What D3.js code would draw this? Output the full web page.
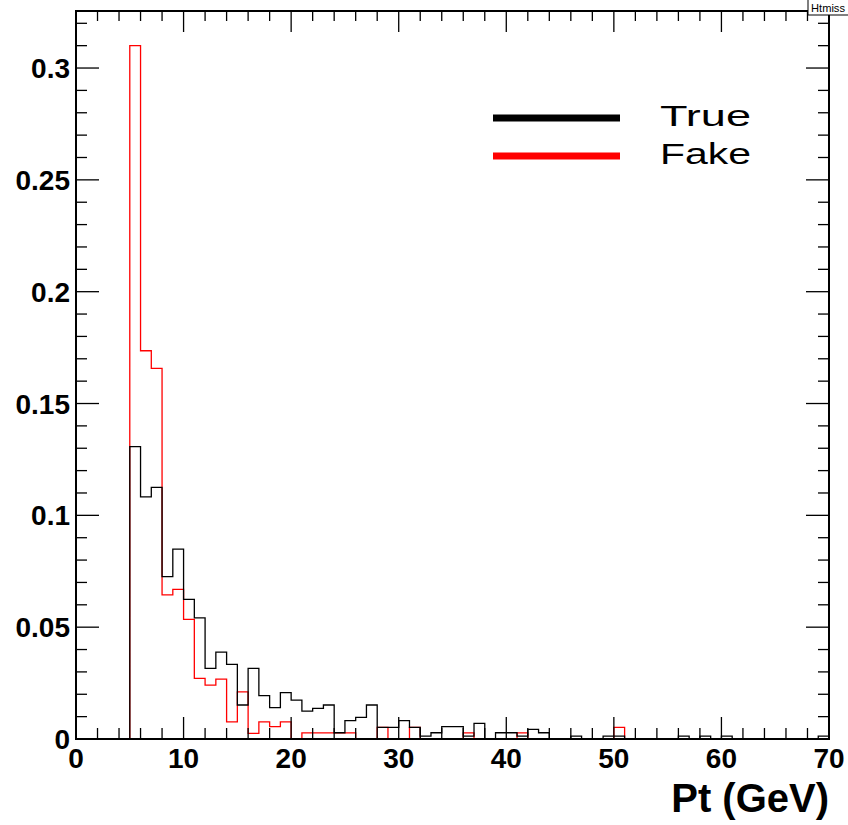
<!DOCTYPE html>
<html><head><meta charset="utf-8">
<script src="https://cdn.jsdelivr.net/npm/d3@7"></script>
<style>body{margin:0;background:#fff}svg{display:block}</style>
</head><body>
<svg id="c" width="848" height="825"></svg>
<script>
// bin low edges 0..69, width 1 GeV
const binEdges = d3.range(0, 71);
const trueVals = [0,0,0,0,0,
 0.1307,0.1083,0.1125,0.0726,0.0849,0.0624,0.0542,0.0316,0.0388,0.0334,
 0.0152,0.0316,0.0194,0.0140,0.0207,0.0174,0.0125,0.0137,0.0152,0.0028,
 0.0082,0.0097,0.0152,0.0052,0.0052,0.0082,0.0052,0.0013,0.0028,0.0055,
 0.0055,0.0013,0.0070,0,0.0028,0.0028,0.0013,0.0043,0.0028,0,
 0,0.0013,0,0,0.0013,0.0013,0,0,0,0,
 0,0.0013,0,0.0013,0,0.0013,0,0,0,0,
 0,0,0,0,0.0013];
const fakeVals = [0,0,0,0,0,
 0.3100,0.1736,0.1657,0.0644,0.0669,0.0535,0.0271,0.0241,0.0268,0.0077,
 0.0211,0.0025,0.0077,0.0055,0.0077,0,0.0027,0.0027,0.0027,0.0027,
 0.0027,0,0,0.0052,0,0,0.0052,0,0,0,
 0,0.0027,0,0,0,0,0.0027,0,0,0,
 0,0,0,0,0,0.0052,0,0,0,0,
 0,0,0,0,0,0,0,0,0,0,
 0,0,0,0,0];
const xTicks = [0,10,20,30,40,50,60,70];
const yTicks = [0,0.05,0.1,0.15,0.2,0.25,0.3];
const yTickLabels = ["0","0.05","0.1","0.15","0.2","0.25","0.3"];
const legendNames = ["True","Fake"];
const legendColors = ["#000000","#ff0000"];

const svg = d3.select("#c");
const L=76, R=829, T=11, B=739;
const x = d3.scaleLinear().domain([0,70]).range([L,R]);
const y = d3.scaleLinear().domain([0,0.3255]).range([B,T]);

function histPath(vals){
  const pts = vals.map((v,i)=>[binEdges[i], v]);
  pts.push([binEdges[vals.length], vals[vals.length-1]]);
  pts.push([binEdges[vals.length], 0]);
  return d3.line().x(d=>x(d[0])).y(d=>y(d[1])).curve(d3.curveStepAfter)(pts);
}
svg.append("path").attr("d",histPath(fakeVals)).attr("fill","none").attr("stroke","#ff0000").attr("stroke-width",1.3);
svg.append("path").attr("d",histPath(trueVals)).attr("fill","none").attr("stroke","#000").attr("stroke-width",1.3);

// frame
svg.append("rect").attr("x",L).attr("y",T).attr("width",R-L).attr("height",B-T).attr("fill","none").attr("stroke","#000").attr("stroke-width",2);

// ticks
const tk = svg.append("g").attr("stroke","#000").attr("stroke-width",1.3);
const xMinor = d3.range(0,70.001,2);
xMinor.forEach(v=>{
  const major = v%10===0;
  const lb = major?22:11, lt = major?21:10;
  tk.append("line").attr("x1",x(v)).attr("x2",x(v)).attr("y1",B).attr("y2",B-lb);
  tk.append("line").attr("x1",x(v)).attr("x2",x(v)).attr("y1",T).attr("y2",T+lt);
});
const yMinor = d3.range(0,0.3255,0.01);
yMinor.forEach((v,i)=>{
  const major = i%5===0;
  const l = major?23:11;
  tk.append("line").attr("x1",L).attr("x2",L+l).attr("y1",y(v)).attr("y2",y(v));
  tk.append("line").attr("x1",R).attr("x2",R-l).attr("y1",y(v)).attr("y2",y(v));
});

// labels
const font = "'Liberation Sans', Arial, Helvetica, sans-serif";
svg.append("g").selectAll("text").data(yTicks).join("text")
  .attr("x",70).attr("y",d=>y(d)+10).attr("text-anchor","end")
  .attr("font-family",font).attr("font-weight","bold").attr("font-size",28)
  .text((d,i)=>yTickLabels[i]);
svg.append("g").selectAll("text").data(xTicks).join("text")
  .attr("x",d=>x(d)).attr("y",768).attr("text-anchor","middle")
  .attr("font-family",font).attr("font-weight","bold").attr("font-size",28)
  .text(d=>d);
svg.append("text").attr("x",829).attr("y",812).attr("text-anchor","end")
  .attr("font-family",font).attr("font-weight","bold").attr("font-size",40)
  .text("Pt (GeV)");

// legend
legendNames.forEach((n,i)=>{
  const yy = 118 + i*38;
  svg.append("line").attr("x1",493).attr("x2",620).attr("y1",yy).attr("y2",yy).attr("stroke",legendColors[i]).attr("stroke-width",7);
  svg.append("text").attr("x",660).attr("y",yy+8).attr("font-family",font).attr("font-size",29)
    .attr("textLength",91).attr("lengthAdjust","spacingAndGlyphs").text(n);
});

// stat/title box at the top-right corner
svg.append("rect").attr("x",808).attr("y",-10).attr("width",60).attr("height",25).attr("fill","#fff").attr("stroke","#000").attr("stroke-width",1);
svg.append("text").attr("x",811).attr("y",12).attr("font-family",font).attr("font-size",11)
  .attr("textLength",34).attr("lengthAdjust","spacingAndGlyphs").text("Htmiss");
</script>
</body></html>
